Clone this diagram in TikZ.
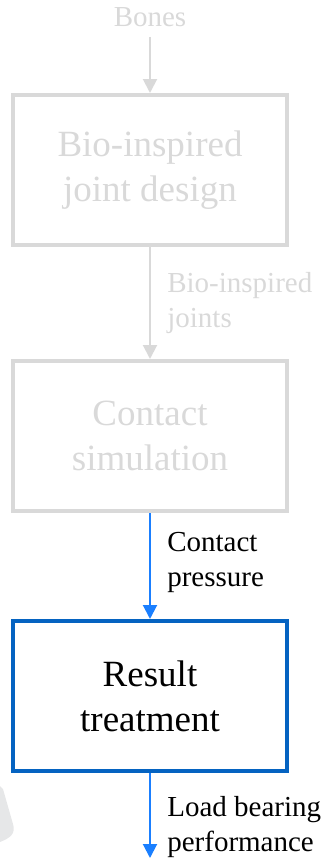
\documentclass[tikz,border=0pt]{standalone}
\usepackage{fontspec}
\setmainfont{Liberation Serif}
\usetikzlibrary{positioning, arrows.meta}

\definecolor{fadegray}{HTML}{D9D9D9}
\definecolor{boxblue}{HTML}{0563C1}
\definecolor{arrowblue}{HTML}{1A7FFF}
\definecolor{shadegray}{HTML}{E6E7E8}

\begin{document}
\begin{tikzpicture}[
    x=1pt, y=-1pt,
    stepbox/.style={rectangle, draw, line width=4pt, minimum width=274pt,
        minimum height=150pt, align=center, font=\fontsize{37}{45}\selectfont},
    faded/.style={stepbox, draw=fadegray, text=fadegray},
    active/.style={stepbox, draw=boxblue, text=black},
    flowlabel/.style={font=\fontsize{29}{35}\selectfont, align=left},
    edgelabel/.style={flowlabel, right, xshift=13pt},
    grayflow/.style={-{Triangle[width=14pt, length=14pt]}, line width=2pt, draw=fadegray},
    blueflow/.style={-{Triangle[width=14pt, length=14pt]}, line width=2pt, draw=arrowblue}
]
\useasboundingbox (0,0) rectangle (329,859);

% Background shape
\fill[shadegray] (0,786) -- (3,789) -- (13,824)
    .. controls (16,834) and (10,838) .. (0,842) -- cycle;

% Input
\node[flowlabel, text=fadegray, anchor=base] (bones) at (150,27) {Bones};

% Steps
\node[faded] (design) at (150,170) {Bio-inspired\\joint design};
\node[faded, below=112pt of design] (sim) {Contact\\simulation};
\node[active, below=106pt of sim] (treat) {Result\\treatment};

% Output end
\coordinate (out) at (150,858);

% Edges
\draw[grayflow, shorten <=6pt] (bones) -- (design);
\draw[grayflow] (design) -- node[edgelabel, text=fadegray] {Bio-inspired\\joints} (sim);
\draw[blueflow] (sim) -- node[edgelabel, yshift=4pt] {Contact\\pressure} (treat);
\draw[blueflow] (treat) -- node[edgelabel, yshift=-12pt] {Load bearing\\performance} (out);

\end{tikzpicture}
\end{document}
